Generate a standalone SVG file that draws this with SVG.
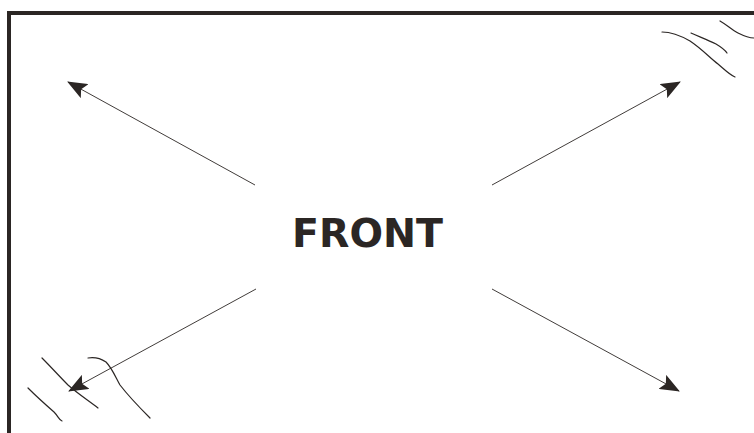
<svg xmlns="http://www.w3.org/2000/svg" width="754" height="433" viewBox="0 0 754 433">
  <style>
    .frame { fill: none; stroke: #2b2624; stroke-width: 4; }
    .conn { fill: none; stroke: #2b2624; stroke-width: 0.9; }
    .sq { fill: none; stroke: #2b2624; stroke-width: 1.2; stroke-linecap: round; }
    .label { font-family: "DejaVu Sans", "Liberation Sans", sans-serif; font-weight: 700; font-size: 39px; fill: #2b2624; }
  </style>
  <defs>
    <marker id="ah" viewBox="0 0 20 16" refX="19" refY="8" markerWidth="20" markerHeight="16" markerUnits="userSpaceOnUse" orient="auto">
      <path d="M0,0 L20,8 L0,16 L4,8 Z" fill="#2b2624"/>
    </marker>
  </defs>
  <rect width="754" height="433" fill="#ffffff"/>
  <g id="frame">
    <path class="frame" d="M9,433 L9,13 L760,13"/>
  </g>
  <g id="front">
    <text class="label" x="367.5" y="247" text-anchor="middle" textLength="151" lengthAdjust="spacingAndGlyphs">FRONT</text>
  </g>
  <g id="connectors">
    <line class="conn" x1="255" y1="185" x2="68" y2="82" marker-end="url(#ah)"/>
    <line class="conn" x1="492" y1="185" x2="680" y2="82" marker-end="url(#ah)"/>
    <line class="conn" x1="256" y1="289" x2="69" y2="391" marker-end="url(#ah)"/>
    <line class="conn" x1="492" y1="289" x2="679" y2="391" marker-end="url(#ah)"/>
  </g>
  <g id="squiggles">
    <path class="sq" d="M662,32 C668,32 676,33 690,41 C702,49 710,58 718,64 C725,70 730,75 735,77"/>
    <path class="sq" d="M691,33 C700,37 708,40 716,44 C721,47 725,50 727,53"/>
    <path class="sq" d="M720,21 C727,25 732,30 738,33 C744,36 749,38 754,38"/>
    <path class="sq" d="M42,358 C52,368 60,377 68,385 C77,393 89,401 98,408"/>
    <path class="sq" d="M28,388 C37,397 46,405 54,412 C58,416 59,420 62,421"/>
    <path class="sq" d="M88,358 C94,357 100,358 106,362 C112,368 116,378 120,385 C130,398 142,410 150,418"/>
  </g>
</svg>
